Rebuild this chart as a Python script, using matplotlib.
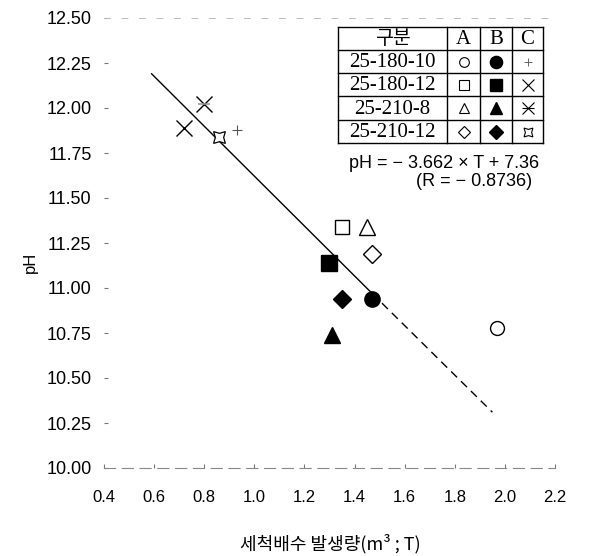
import matplotlib
matplotlib.use('Agg')
import matplotlib.pyplot as plt
from matplotlib.lines import Line2D

plt.rcParams['font.family'] = ['Liberation Sans', 'Noto Sans CJK KR', 'DejaVu Sans']

# groups (rows of the key table) and columns A / B / C
groups = ['25-180-10', '25-180-12', '25-210-8', '25-210-12']
cols = ['A', 'B', 'C']

# column A (open markers)
a_x = [1.97, 1.35, 1.45, 1.47]
a_y = [10.78, 11.34, 11.34, 11.19]
# column B (filled markers)
b_x = [1.47, 1.30, 1.31, 1.35]
b_y = [10.94, 11.14, 10.74, 10.94]
# column C (line markers)
c_x = [0.93, 0.72, 0.80, 0.86]
c_y = [11.88, 11.89, 12.02, 11.84]

# regression line as drawn (solid part, then broken part)
reg_x = [0.59, 1.47, 1.95]
reg_y = [12.19, 10.97, 10.31]

xticks = [0.4, 0.6, 0.8, 1.0, 1.2, 1.4, 1.6, 1.8, 2.0, 2.2]
yticks = [10.00, 10.25, 10.50, 10.75, 11.00, 11.25, 11.50, 11.75, 12.00, 12.25, 12.50]

eq_text = 'pH = − 3.662 × T + 7.36'
r_text = '(R = − 0.8736)'

W, H = 591, 556
fig = plt.figure(figsize=(W / 100, H / 100), dpi=100)
L, R, T, B = 104, 555, 18, 468
ax = fig.add_axes([L / W, 1 - B / H, (R - L) / W, (B - T) / H])
ax.set_xlim(0.4, 2.2)
ax.set_ylim(10.0, 12.5)

# regression line
ax.plot(reg_x[:2], reg_y[:2], color='black', lw=1.0)
ax.plot(reg_x[1:], reg_y[1:], color='black', lw=1.0, ls=(0, (6, 4)))

a_mk = [('o', 10), ('s', 10), ('^', 11), ('D', 9)]
b_mk = [('o', 11), ('s', 11), ('^', 11), ('D', 9)]

for i in range(4):
    ax.plot(a_x[i], a_y[i], marker=a_mk[i][0], ms=a_mk[i][1], mfc='white',
            mec='black', mew=1.0, ls='none')
    ax.plot(b_x[i], b_y[i], marker=b_mk[i][0], ms=b_mk[i][1], color='black', ls='none')

# C markers: +, x, x with bar, 4-point star
ax.plot(c_x[0], c_y[0], marker='+', ms=7, color='#555555', mew=0.8, ls='none')
ax.plot(c_x[1], c_y[1], marker='x', ms=11, color='black', mew=1.0, ls='none')
ax.plot(c_x[2], c_y[2], marker='x', ms=11, color='black', mew=1.0, ls='none')
ax.plot(c_x[2], c_y[2], marker='_', ms=9, color='#999999', mew=1.2, ls='none')
ax.plot(c_x[3], c_y[3], marker=(4, 1, 45), ms=12, mfc='white', mec='black', mew=0.9, ls='none')

ax.set_xticks(xticks)
ax.set_xticklabels(['%.1f' % v for v in xticks])
ax.set_yticks(yticks)
ax.set_yticklabels(['%.2f' % v for v in yticks])
ax.tick_params(axis='both', direction='in', length=3, width=0.8, color='#777777')
ax.tick_params(axis='x', pad=16, labelsize=12)
ax.tick_params(axis='y', pad=9, labelsize=13)
for s in ['left', 'right']:
    ax.spines[s].set_visible(False)
ax.spines['top'].set_color('#bbbbbb')
ax.spines['top'].set_linewidth(0.7)
ax.spines['top'].set_linestyle((0, (6, 12)))
ax.spines['bottom'].set_color('#888888')
ax.spines['bottom'].set_linewidth(0.8)
ax.spines['bottom'].set_linestyle((0, (10, 6)))

ax.set_ylabel('pH', fontsize=12, va='center')
ax.yaxis.set_label_coords(-0.164, 0.458)
ax.set_xlabel('세척배수 발생량(m³ ; T)', fontsize=13, va='center',
              family=['Noto Sans CJK KR', 'DejaVu Sans'])
ax.xaxis.set_label_coords(0.501, -0.168)


# key table in pixel coordinates
def fx(px):
    return px / W


def fy(py):
    return 1 - py / H


tl, tr = 338, 543
vcols = [447, 480, 512]
rows = [27, 50, 73, 96, 120, 143]
for py in rows:
    fig.add_artist(Line2D([fx(tl), fx(tr)], [fy(py), fy(py)], color='black', lw=1.0,
                          transform=fig.transFigure))
for px in [tl] + vcols + [tr]:
    fig.add_artist(Line2D([fx(px), fx(px)], [fy(rows[0]), fy(rows[-1])], color='black',
                          lw=1.0, transform=fig.transFigure))

edges = [tl] + vcols + [tr]
fig.text(fx((tl + vcols[0]) / 2), fy((rows[0] + rows[1]) / 2), '구분', ha='center',
         va='center', fontsize=14, family=['Noto Sans CJK KR', 'DejaVu Sans'])
for j, c in enumerate(cols):
    fig.text(fx((edges[j + 1] + edges[j + 2]) / 2), fy((rows[0] + rows[1]) / 2 + 1), c,
             ha='center', va='center', fontsize=15, family='Liberation Serif')
for i, g in enumerate(groups):
    fig.text(fx((tl + vcols[0]) / 2), fy((rows[i + 1] + rows[i + 2]) / 2 + 1), g,
             ha='center', va='center', fontsize=15, family='Liberation Serif')

# key markers
for i in range(4):
    yc = fy((rows[i + 1] + rows[i + 2]) / 2)
    xa = fx((edges[1] + edges[2]) / 2)
    xb = fx((edges[2] + edges[3]) / 2)
    xc = fx((edges[3] + edges[4]) / 2)
    fig.add_artist(Line2D([xa], [yc], marker=a_mk[i][0], ms=a_mk[i][1] * 0.7, mfc='white',
                          mec='black', mew=0.8, ls='none', transform=fig.transFigure))
    fig.add_artist(Line2D([xb], [yc], marker=b_mk[i][0], ms=b_mk[i][1] * 0.8, color='black',
                          ls='none', transform=fig.transFigure))
    if i == 0:
        fig.add_artist(Line2D([xc], [yc], marker='+', ms=6, color='#666666', mew=0.7,
                              ls='none', transform=fig.transFigure))
    elif i == 1:
        fig.add_artist(Line2D([xc], [yc], marker='x', ms=9, color='black', mew=0.8,
                              ls='none', transform=fig.transFigure))
    elif i == 2:
        fig.add_artist(Line2D([xc], [yc], marker='x', ms=9, color='black', mew=0.8,
                              ls='none', transform=fig.transFigure))
        fig.add_artist(Line2D([xc], [yc], marker='_', ms=8, color='black', mew=0.8,
                              ls='none', transform=fig.transFigure))
    else:
        fig.add_artist(Line2D([xc], [yc], marker=(4, 1, 45), ms=9, mfc='white', mec='black',
                              mew=0.8, ls='none', transform=fig.transFigure))

fig.text(fx(444), fy(163), eq_text, ha='center', va='center', fontsize=13)
fig.text(fx(474), fy(182), r_text, ha='center', va='center', fontsize=13)

fig.savefig('out.png', dpi=100)
